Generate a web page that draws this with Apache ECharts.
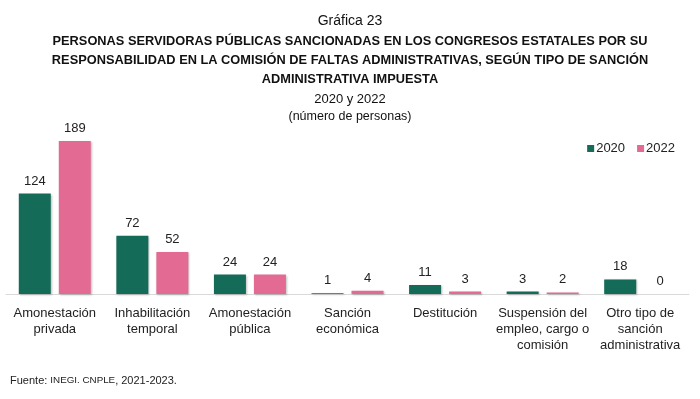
<!DOCTYPE html>
<html>
<head>
<meta charset="utf-8">
<script src="https://cdn.jsdelivr.net/npm/echarts@6/dist/echarts.min.js"></script>
<style>
  html, body { margin: 0; padding: 0; background: #fff; }
  #chart { width: 700px; height: 399px; }
</style>
</head>
<body>
<div id="chart"></div>
<script>
const categories = [
  'Amonestación\nprivada',
  'Inhabilitación\ntemporal',
  'Amonestación\npública',
  'Sanción\neconómica',
  'Destitución',
  'Suspensión del\nempleo, cargo o\ncomisión',
  'Otro tipo de\nsanción\nadministrativa'
]
const years = ['2020', '2022']
const values2020 = [124, 72, 24, 1, 11, 3, 18]
const values2022 = [189, 52, 24, 4, 3, 2, 0]

const titleLines = [
  'PERSONAS SERVIDORAS PÚBLICAS SANCIONADAS EN LOS CONGRESOS ESTATALES POR SU',
  'RESPONSABILIDAD EN LA COMISIÓN DE FALTAS ADMINISTRATIVAS, SEGÚN TIPO DE SANCIÓN',
  'ADMINISTRATIVA IMPUESTA'
]

const green = '#136b58'
const pink = '#e26a93'
const font = 'Liberation Sans, Arial, sans-serif'

const chart = echarts.init(document.getElementById('chart'))

const barSeries = (name, data, color) => ({
    name: name,
    type: 'bar',
    data: data,
    barWidth: 32,
    barGap: '25%',
    itemStyle: {
        color: color,
        shadowColor: 'rgba(0,0,0,0.25)',
        shadowBlur: 2,
        shadowOffsetX: 1,
        shadowOffsetY: 1
    },
    label: {
        show: true,
        position: 'top',
        distance: 6,
        color: '#222',
        fontSize: 13,
        fontFamily: font
    }
})

chart.setOption({
    animation: false,
    title: [
        {
            text: 'Gráfica 23',
            left: 'center',
            top: 9,
            textStyle: {fontSize: 14, fontWeight: 'normal', color: '#111', fontFamily: font}
        },
        ...titleLines.map((t, i) => ({
            text: t,
            left: 'center',
            top: 30 + i * 19,
            textStyle: {fontSize: 12.8, fontWeight: 'bold', color: '#111', fontFamily: font}
        })),
        {
            text: '2020 y 2022',
            left: 'center',
            top: 88,
            textStyle: {fontSize: 13, fontWeight: 'normal', color: '#111', fontFamily: font}
        },
        {
            text: '(número de personas)',
            left: 'center',
            top: 105,
            textStyle: {fontSize: 12.5, fontWeight: 'normal', color: '#111', fontFamily: font}
        }
    ],
    legend: {
        data: years,
        right: 20,
        top: 137,
        icon: 'rect',
        itemWidth: 7,
        itemHeight: 7,
        itemGap: 12,
        textStyle: {fontSize: 13, color: '#222', fontFamily: font, padding: [0, 0, 0, -3]}
    },
    grid: {
        left: 6,
        right: 11,
        top: 132,
        bottom: 105
    },
    xAxis: {
        type: 'category',
        data: categories,
        axisLine: {lineStyle: {color: '#d9d9d9', width: 1}},
        axisTick: {show: false},
        axisLabel: {
            interval: 0,
            margin: 11,
            fontSize: 13,
            lineHeight: 16,
            color: '#222',
            fontFamily: font
        }
    },
    yAxis: {
        type: 'value',
        min: 0,
        max: 200,
        show: false,
        splitLine: {show: false}
    },
    series: [
        barSeries(years[0], values2020, green),
        barSeries(years[1], values2022, pink)
    ],
    graphic: [{
        type: 'text',
        left: 10,
        top: 375,
        style: {
            text: '{a|Fuente: }{b|INEGI. CNPLE}{a|, 2021-2023.}',
            rich: {
                a: {fontSize: 11, fontFamily: font, fill: '#222'},
                b: {fontSize: 9.8, fontFamily: font, fill: '#222'}
            }
        }
    }]
})
</script>
</body>
</html>
